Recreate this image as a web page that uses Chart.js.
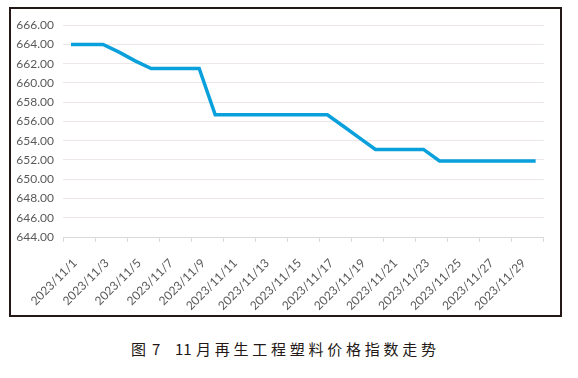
<!DOCTYPE html>
<html>
<head>
<meta charset="utf-8">
<script src="https://cdn.jsdelivr.net/npm/chart.js@4.4.0/dist/chart.umd.min.js"></script>
<style>
    body { margin: 0; background: #fff; width: 578px; height: 378px; position: relative; overflow: hidden; }
    #frame { position: absolute; left: 9px; top: 7px; width: 549px; height: 306px; border: 2px solid #231815; }
    #frame canvas { display: block; }
    .cap { position: absolute; top: 341px; font: 15px/15px "Noto Sans CJK SC", sans-serif; color: #231815; white-space: nowrap; }
</style>
</head>
<body>
<div id="frame"><canvas id="indexChart" width="549" height="306"></canvas></div>
<div class="cap" style="left:131px">图</div>
<div class="cap" style="left:152px">7</div>
<div class="cap" style="left:175px">11</div>
<div class="cap" style="left:196px; letter-spacing:3.75px">月再生工程塑料价格指数走势</div>
<script>
// Dates (November 2023)
const dateLabels = [
    '2023/11/1', '2023/11/2', '2023/11/3', '2023/11/4', '2023/11/5',
    '2023/11/6', '2023/11/7', '2023/11/8', '2023/11/9', '2023/11/10',
    '2023/11/11', '2023/11/12', '2023/11/13', '2023/11/14', '2023/11/15',
    '2023/11/16', '2023/11/17', '2023/11/18', '2023/11/19', '2023/11/20',
    '2023/11/21', '2023/11/22', '2023/11/23', '2023/11/24', '2023/11/25',
    '2023/11/26', '2023/11/27', '2023/11/28', '2023/11/29', '2023/11/30'
];

// Price index
const priceIndex = [
    664.0, 664.0, 664.0, 663.2, 662.3,
    661.5, 661.5, 661.5, 661.5, 656.7,
    656.7, 656.7, 656.7, 656.7, 656.7,
    656.7, 656.7, 655.5, 654.3, 653.1,
    653.1, 653.1, 653.1, 651.9, 651.9,
    651.9, 651.9, 651.9, 651.9, 651.9
];

// Y axis range
const yMin = 644;
const yMax = 666;
const yStep = 2;

const axisFont = { family: 'Lato', size: 12 };

const ctx = document.getElementById('indexChart').getContext('2d');

new Chart(ctx, {
    type: 'line',
    data: {
        labels: dateLabels,
        datasets: [{
            data: priceIndex,
            borderColor: '#0aa0dc',
            borderWidth: 3.5,
            pointRadius: 0,
            tension: 0,
            fill: false
        }]
    },
    options: {
        responsive: false,
        animation: false,
        devicePixelRatio: 1,
        layout: { padding: { top: 15, right: 10, left: 0, bottom: 0 } },
        plugins: {
            legend: { display: false },
            tooltip: { enabled: false }
        },
        scales: {
            x: {
                type: 'category',
                offset: true,
                grid: {
                    offset: true,
                    drawOnChartArea: false,
                    drawTicks: true,
                    tickLength: 5,
                    tickColor: c => (c.index === undefined || c.index % 2 === 0) ? '#d9d9d9' : 'rgba(0,0,0,0)'
                },
                border: { display: true, color: '#d9d9d9', width: 1 },
                ticks: {
                    autoSkip: false,
                    minRotation: 45,
                    maxRotation: 45,
                    padding: 14,
                    labelOffset: 4,
                    color: '#595959',
                    font: axisFont,
                    callback: (v, i) => i % 2 === 0 ? dateLabels[i] : ''
                },
                afterFit: s => { s.height = 78; }
            },
            y: {
                min: yMin,
                max: yMax,
                grid: { color: '#ece6e6', drawTicks: false },
                border: { display: false },
                ticks: {
                    stepSize: yStep,
                    padding: 9,
                    color: '#595959',
                    font: axisFont,
                    callback: v => v.toFixed(2)
                },
                afterFit: s => { s.width = 52; }
            }
        }
    }
});
</script>
</body>
</html>
